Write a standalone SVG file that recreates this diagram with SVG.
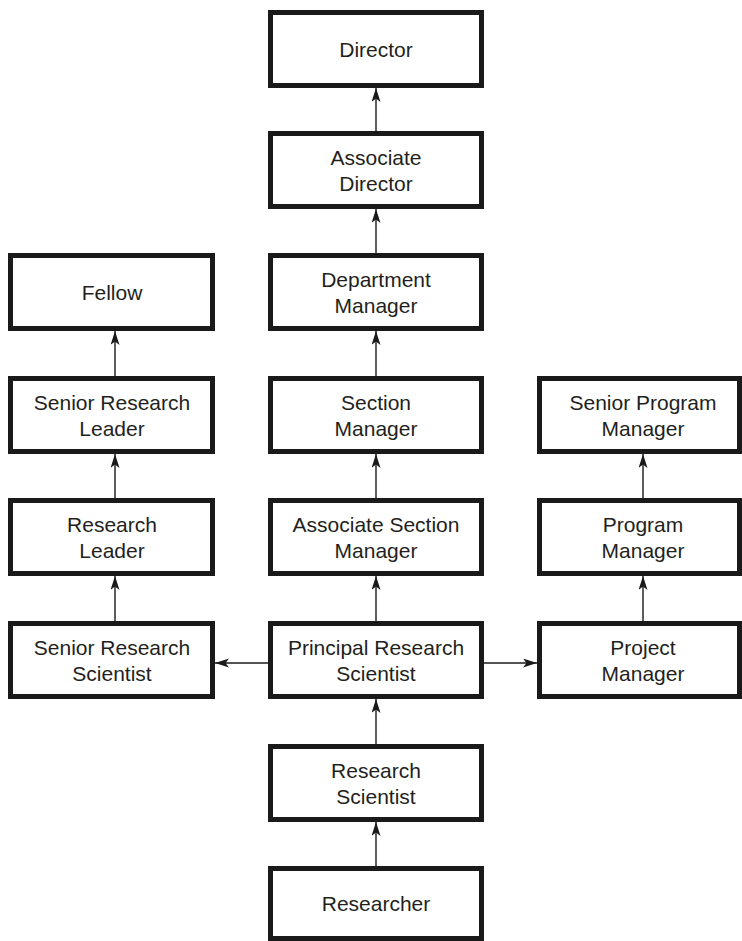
<svg xmlns="http://www.w3.org/2000/svg" width="742" height="941" viewBox="0 0 742 941">
<style>
.box{fill:#fff;stroke:#1a1a1a;stroke-width:5}
.t{font-family:"Liberation Sans",Arial,sans-serif;font-size:21px;fill:#231f20;text-anchor:middle}
.c{stroke:#1a1a1a;stroke-width:1.4;fill:none;marker-end:url(#ah)}
</style>
<defs>
<marker id="ah" markerUnits="userSpaceOnUse" markerWidth="16" markerHeight="10" refX="14" refY="4.5" orient="auto">
<path d="M0,0 L14,4.5 L0,9 L3.5,4.5 z" fill="#1a1a1a"/>
</marker>
</defs>
<rect width="742" height="941" fill="#fff"/>
<g id="connectors">
<line class="c" x1="376" y1="131" x2="376" y2="88"/>
<line class="c" x1="376" y1="253" x2="376" y2="209"/>
<line class="c" x1="376" y1="376" x2="376" y2="331"/>
<line class="c" x1="376" y1="498" x2="376" y2="454"/>
<line class="c" x1="376" y1="621" x2="376" y2="576"/>
<line class="c" x1="376" y1="744" x2="376" y2="699"/>
<line class="c" x1="376" y1="866" x2="376" y2="822"/>
<line class="c" x1="115" y1="376" x2="115" y2="331"/>
<line class="c" x1="115" y1="498" x2="115" y2="454"/>
<line class="c" x1="115" y1="621" x2="115" y2="576"/>
<line class="c" x1="643" y1="498" x2="643" y2="454"/>
<line class="c" x1="643" y1="621" x2="643" y2="576"/>
<line class="c" x1="268" y1="663" x2="215" y2="663"/>
<line class="c" x1="484" y1="663" x2="537" y2="663"/>
</g>
<g id="director"><rect class="box" x="270.5" y="12.5" width="211" height="73"/><text class="t" x="376" y="56.5">Director</text></g>
<g id="associate-director"><rect class="box" x="270.5" y="133.5" width="211" height="73"/><text class="t" x="376" y="165">Associate</text><text class="t" x="376" y="191">Director</text></g>
<g id="department-manager"><rect class="box" x="270.5" y="255.5" width="211" height="73"/><text class="t" x="376" y="287">Department</text><text class="t" x="376" y="313">Manager</text></g>
<g id="section-manager"><rect class="box" x="270.5" y="378.5" width="211" height="73"/><text class="t" x="376" y="410">Section</text><text class="t" x="376" y="436">Manager</text></g>
<g id="associate-section-manager"><rect class="box" x="270.5" y="500.5" width="211" height="73"/><text class="t" x="376" y="532">Associate Section</text><text class="t" x="376" y="558">Manager</text></g>
<g id="principal-research-scientist"><rect class="box" x="270.5" y="623.5" width="211" height="73"/><text class="t" x="376" y="655">Principal Research</text><text class="t" x="376" y="681">Scientist</text></g>
<g id="research-scientist"><rect class="box" x="270.5" y="746.5" width="211" height="73"/><text class="t" x="376" y="778">Research</text><text class="t" x="376" y="804">Scientist</text></g>
<g id="researcher"><rect class="box" x="270.5" y="868.5" width="211" height="70"/><text class="t" x="376" y="911">Researcher</text></g>
<g id="fellow"><rect class="box" x="10.5" y="255.5" width="202" height="73"/><text class="t" x="112" y="299.5">Fellow</text></g>
<g id="senior-research-leader"><rect class="box" x="10.5" y="378.5" width="202" height="73"/><text class="t" x="112" y="410">Senior Research</text><text class="t" x="112" y="436">Leader</text></g>
<g id="research-leader"><rect class="box" x="10.5" y="500.5" width="202" height="73"/><text class="t" x="112" y="532">Research</text><text class="t" x="112" y="558">Leader</text></g>
<g id="senior-research-scientist"><rect class="box" x="10.5" y="623.5" width="202" height="73"/><text class="t" x="112" y="655">Senior Research</text><text class="t" x="112" y="681">Scientist</text></g>
<g id="senior-program-manager"><rect class="box" x="539.5" y="378.5" width="200" height="73"/><text class="t" x="643" y="410">Senior Program</text><text class="t" x="643" y="436">Manager</text></g>
<g id="program-manager"><rect class="box" x="539.5" y="500.5" width="200" height="73"/><text class="t" x="643" y="532">Program</text><text class="t" x="643" y="558">Manager</text></g>
<g id="project-manager"><rect class="box" x="539.5" y="623.5" width="200" height="73"/><text class="t" x="643" y="655">Project</text><text class="t" x="643" y="681">Manager</text></g>
</svg>
